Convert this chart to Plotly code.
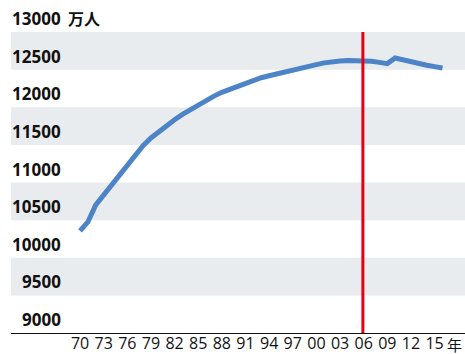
import plotly.graph_objects as go

# Population, 1970-2016 (unit: 万人)
years = list(range(1970, 2017))
population = [
    10357, 10476, 10702, 10835, 10980, 11110, 11240, 11370, 11490, 11592,
    11680, 11760, 11835, 11905, 11970, 12035, 12095, 12148, 12198, 12240,
    12278, 12315, 12355, 12392, 12418, 12440, 12462, 12492, 12522, 12545,
    12567, 12590, 12606, 12615, 12620, 12622, 12621, 12611, 12596, 12580,
    12655, 12628, 12601, 12578, 12558, 12540, 12521,
]

# Axis ticks
y_ticks = [9000, 9500, 10000, 10500, 11000, 11500, 12000, 12500, 13000]
x_tick_years = list(range(1970, 2016, 3))
x_tick_labels = [f"{y % 100:02d}" for y in x_tick_years]

# Vertical marker year
marker_year = 2005.9

# Shaded bands between alternate tick levels
bands = [(12500, 13000), (11500, 12000), (10500, 11000), (9500, 10000)]

LABEL_FONT = "Open Sans, Noto Sans CJK JP, sans-serif"
CJK_FONT = "Noto Sans CJK JP, sans-serif"

fig = go.Figure()
fig.add_trace(go.Scatter(
    x=years, y=population, mode="lines",
    line=dict(color="#4d84c7", width=5),
    hoverinfo="skip",
))

shapes = []
for lo, hi in bands:
    shapes.append(dict(type="rect", xref="paper", x0=0, x1=1, yref="y", y0=lo, y1=hi,
                       fillcolor="#e9ecef", line=dict(width=0), layer="below"))
shapes.append(dict(type="line", xref="x", x0=marker_year, x1=marker_year,
                   yref="paper", y0=0, y1=1, line=dict(color="#e60012", width=3)))

annotations = []
label_x = (63 - 11) / 454
for v in y_ticks:
    annotations.append(dict(
        x=label_x, xref="paper", y=v, yref="y", text=f"{v}",
        xanchor="right", yanchor="bottom", showarrow=False,
        font=dict(family=LABEL_FONT, size=17, color="#111111", weight="bold"),
    ))
annotations.append(dict(
    x=label_x, xref="paper", y=13000, yref="y", text="万人", xshift=3,
    xanchor="left", yanchor="bottom", showarrow=False,
    font=dict(family=CJK_FONT, size=16, color="#111111", weight="bold"),
))
annotations.append(dict(
    x=2017.5, xref="x", y=0, yref="paper", text="年",
    xanchor="center", yanchor="middle", yshift=-11, showarrow=False,
    borderpad=0,
    font=dict(family=CJK_FONT, size=15, color="#111111"),
))

fig.update_layout(
    width=465, height=354,
    margin=dict(l=11, r=0, t=32, b=21),
    paper_bgcolor="white", plot_bgcolor="white",
    showlegend=False,
    shapes=shapes,
    annotations=annotations,
    xaxis=dict(
        range=[1961.24, 2018.86],
        tickvals=x_tick_years, ticktext=x_tick_labels,
        showgrid=False, zeroline=False, automargin=False,
        showline=True, linecolor="#111111", linewidth=1,
        ticks="", ticklen=0, ticklabelstandoff=-4,
        tickfont=dict(family=LABEL_FONT, size=16, color="#111111"),
    ),
    yaxis=dict(
        range=[9000, 13000], automargin=False,
        showgrid=False, zeroline=False, showline=False,
        showticklabels=False, ticks="",
    ),
)

fig.write_html("out.html")
